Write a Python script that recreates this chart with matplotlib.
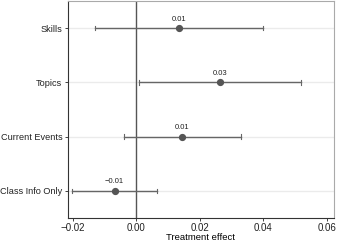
import matplotlib
matplotlib.use("Agg")
import matplotlib.pyplot as plt

categories = ["Skills", "Topics", "Current Events", "Class Info Only"]
estimates = [0.0134, 0.0263, 0.0144, -0.0069]
ci_low = [-0.0131, 0.0008, -0.0038, -0.0203]
ci_high = [0.0399, 0.0519, 0.0329, 0.0066]
labels = ["0.01", "0.03", "0.01", "\u22120.01"]
xticks = [-0.02, 0.00, 0.02, 0.04, 0.06]
xticklabels = ["\u22120.02", "0.00", "0.02", "0.04", "0.06"]

plt.rcParams['font.family'] = ['Liberation Sans', 'DejaVu Sans']
fig = plt.figure(figsize=(3.37, 2.41), dpi=100)
ax = fig.add_axes([67.5/337, 1 - 218/241, (334-67.5)/337, (218-1)/241])

n = len(categories)
ypos = list(range(n, 0, -1))
for y in ypos:
    ax.axhline(y, color="#ebebeb", lw=1.0, zorder=0)
ax.axvline(0, color="#555555", lw=1.0, zorder=1)

for y, e, lo, hi, lab in zip(ypos, estimates, ci_low, ci_high, labels):
    ax.plot([lo, hi], [y, y], color="#666666", lw=1.0, zorder=2)
    ax.plot([lo, lo], [y - 0.04, y + 0.04], color="#666666", lw=0.8, zorder=2)
    ax.plot([hi, hi], [y - 0.04, y + 0.04], color="#666666", lw=0.8, zorder=2)
    ax.plot(e, y, "o", color="#555555", ms=4.2, zorder=3)
    ax.text(e, y + 0.1, lab, ha="center", va="bottom", fontsize=5.5, color="#222222")

ax.set_xlim(-0.0217, 0.0622)
ax.set_ylim(0.5, 4.5)
ax.set_yticks(ypos)
ax.set_yticklabels(categories, fontsize=6.6)
ax.set_xticks(xticks)
ax.set_xticklabels(xticklabels, fontsize=7)
ax.set_xlabel("Treatment effect", fontsize=6.8, labelpad=0)
ax.tick_params(length=2.5, width=0.6, pad=1.2, colors="#222222")
ax.spines["left"].set_color("#333333")
ax.spines["bottom"].set_color("#333333")
ax.spines["top"].set_color("#aaaaaa")
ax.spines["right"].set_color("#aaaaaa")
for s in ax.spines.values():
    s.set_linewidth(0.8)

fig.savefig("out.png", dpi=100)
